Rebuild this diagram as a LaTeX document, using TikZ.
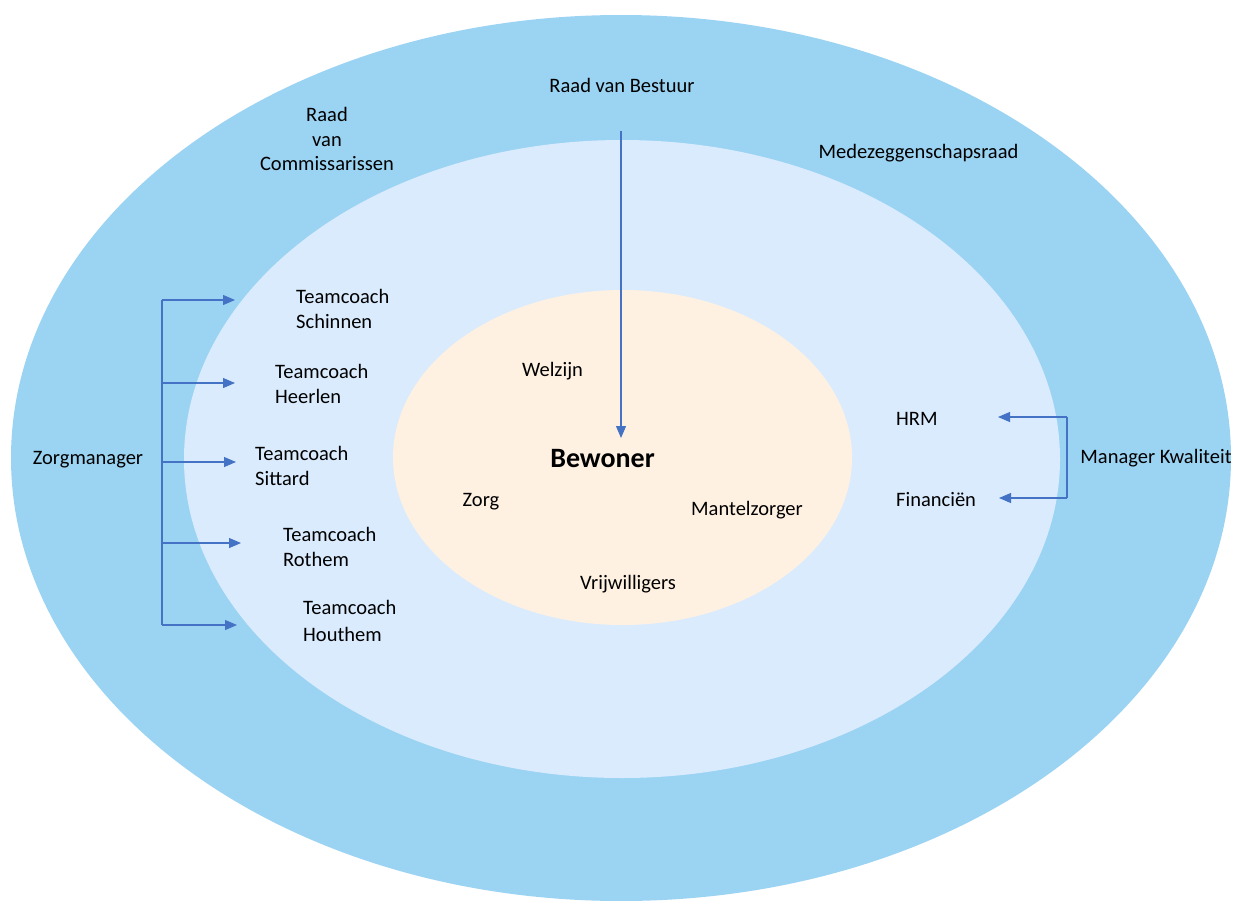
\documentclass[tikz,border=0pt]{standalone}
\usepackage{fontspec}
\setmainfont{Carlito}
\usetikzlibrary{arrows.meta}
\definecolor{outerblue}{HTML}{9BD3F3}
\definecolor{midblue}{HTML}{DAEBFD}
\definecolor{innercream}{HTML}{FEF1E2}
\definecolor{linkblue}{HTML}{4472C4}
\begin{document}
\begin{tikzpicture}[x=1pt,y=-1pt,
  lbl/.style={font=\fontsize{20.5}{24.5}\selectfont, inner sep=0pt, text=black},
  lblleft/.style={lbl, align=left, anchor=west},
  link/.style={draw=linkblue, line width=1.1pt, -{Triangle[length=12pt,width=10pt]}},
  plain/.style={draw=linkblue, line width=1.1pt}]
\useasboundingbox (0,0) rectangle (1234,900);
\begin{scope}
\clip (0,0) rectangle (1234,900);
% three nested rings
\fill[outerblue] (621,458) ellipse [x radius=610pt, y radius=443pt];
\fill[midblue] (622,459) ellipse [x radius=438pt, y radius=319pt];
\fill[innercream] (622.5,457.5) ellipse [x radius=229.5pt, y radius=167.5pt];
\end{scope}

% outer ring labels
\node[lbl] (rvb) at (622,85) {Raad van Bestuur};
\node[lbl, align=center] (rvc) at (327,139) {Raad\\van\\Commissarissen};
\node[lbl] (mzr) at (918.5,153) {Medezeggenschapsraad};
\node[lbl] (zm) at (88,460) {Zorgmanager};
\node[lbl] (mk) at (1156,458) {Manager Kwaliteit};

% middle ring labels
\node[lblleft] (tsch) at (296,309) {Teamcoach\\Schinnen};
\node[lblleft] (thee) at (275,384) {Teamcoach\\Heerlen};
\node[lblleft] (tsit) at (255,466) {Teamcoach\\Sittard};
\node[lblleft] (trot) at (283,547) {Teamcoach\\Rothem};
\node[lblleft, font=\fontsize{20.5}{27}\selectfont] (thou) at (303,621) {Teamcoach\\Houthem};
\node[lblleft] (hrm) at (896,419) {HRM};
\node[lblleft] (fin) at (896,500) {Financiën};

% inner ring labels
\node[lbl] (wel) at (552.5,371) {Welzijn};
\node[lbl, font=\bfseries\fontsize{28}{32}\selectfont] (bew) at (602.5,459) {Bewoner};
\node[lbl] (zorg) at (481,502) {Zorg};
\node[lbl] (mant) at (747,510) {Mantelzorger};
\node[lbl] (vrij) at (628,584) {Vrijwilligers};

% Raad van Bestuur down to the resident
\coordinate (rvbfoot) at (621,131);
\coordinate (bewtop) at (621,438);
\draw[link] (rvbfoot) -- (bewtop);

% Zorgmanager bracket to the teamcoaches
\coordinate (zmtop) at (162,300);
\coordinate (zm2) at (162,383);
\coordinate (zm3) at (162,462);
\coordinate (zm4) at (162,543);
\coordinate (zmbot) at (162,625);
\coordinate (a1) at (235,300);
\coordinate (a2) at (235,383);
\coordinate (a3) at (236,462);
\coordinate (a4) at (241,543);
\coordinate (a5) at (237,625);
\draw[plain] (zmtop) -- (zmbot);
\draw[link] (zmtop) -- (a1);
\draw[link] (zm2) -- (a2);
\draw[link] (zm3) -- (a3);
\draw[link] (zm4) -- (a4);
\draw[link] (zmbot) -- (a5);

% Manager Kwaliteit bracket to HRM and Financien
\coordinate (mktop) at (1067,417);
\coordinate (mkbot) at (1067,498);
\coordinate (b1) at (998,417);
\coordinate (b2) at (999,498);
\draw[plain] (mktop) -- (mkbot);
\draw[link] (mktop) -- (b1);
\draw[link] (mkbot) -- (b2);
\end{tikzpicture}
\end{document}
